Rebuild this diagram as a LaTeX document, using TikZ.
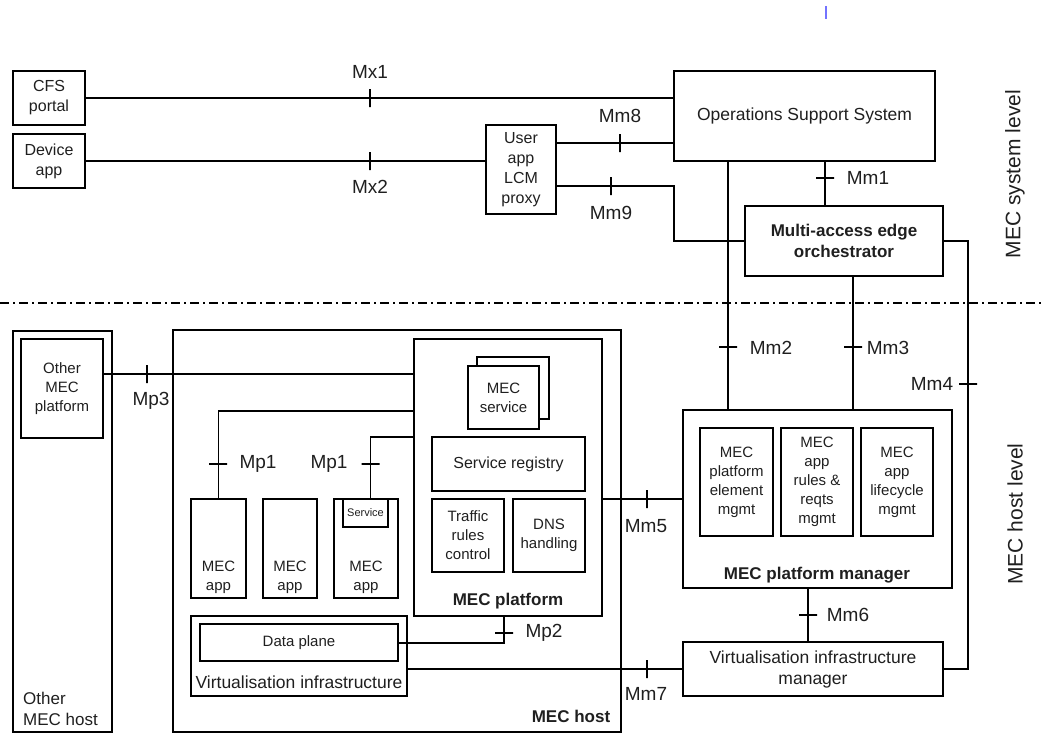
\documentclass[tikz,border=0pt]{standalone}
\usepackage{fontspec}
\setmainfont{Liberation Sans}
\usetikzlibrary{calc}
\begin{document}
\begin{tikzpicture}[x=1pt,y=-1pt,
  box/.style={draw, line width=1.8pt, inner sep=0pt, outer sep=0pt, align=center, text=black!88},
  conn/.style={line width=1.8pt},
  vt/.style={draw, line width=1.8pt, shape=rectangle, minimum width=0pt, minimum height=18pt, inner sep=0pt, outer sep=0pt},
  ht/.style={draw, line width=1.8pt, shape=rectangle, minimum width=18pt, minimum height=0pt, inner sep=0pt, outer sep=0pt},
  lbl/.style={font=\fontsize{19}{22}\selectfont, text=black!88, inner sep=0pt},
  fa/.style={font=\fontsize{16}{20}\selectfont},
  fw/.style={font=\fontsize{17.5}{21}\selectfont},
  fs/.style={font=\fontsize{15}{19}\selectfont},
  fsb/.style={font=\fontsize{11}{13}\selectfont},
  fb/.style={font=\fontsize{17}{21}\selectfont\bfseries, text=black!88, align=center},
  fl/.style={font=\fontsize{21}{24}\selectfont, text=black!88},
]
\useasboundingbox (0,0) rectangle (1044,742);
% stray mark
\coordinate (s1) at (826,6); \coordinate (s2) at (826,19);
\draw[line width=1.2pt, color=blue!55] (s1) -- (s2);

% system level
\node[box, fa, minimum width=72pt, minimum height=54pt] (cfs) at (49,98) {CFS\\portal};
\node[box, fa, minimum width=72pt, minimum height=54pt] (dev) at (49,161) {Device\\app};
\node[box, fa, minimum width=70pt, minimum height=89pt] (uapp) at (521,169.5) {User\\app\\LCM\\proxy};
\node[box, fw, minimum width=261pt, minimum height=90pt] (oss) at (804.5,116) {Operations Support System};
\node[box, fb, minimum width=198pt, minimum height=70pt] (meo) at (844,241) {Multi-access edge\\orchestrator};

% separator
\coordinate (dl) at (0,303); \coordinate (dr) at (1044,303);
\draw[line width=1.8pt, dash pattern=on 9pt off 4pt on 2pt off 4pt] (dl) -- (dr);

\node[fl, rotate=90] (syslvl) at (1015,174) {MEC system level};
\node[fl, rotate=90] (hostlvl) at (1015,514) {MEC host level};

% host level
\node[box, minimum width=99pt, minimum height=401pt] (omh) at (62.5,531.5) {};
\node[font=\fontsize{17}{21}\selectfont, text=black!88, align=left, anchor=west, inner sep=0pt] (omht) at (23,709) {Other\\MEC host};
\node[box, fs, minimum width=82pt, minimum height=99pt] (omp) at (62,388.5) {Other\\MEC\\platform};

\node[box, minimum width=448pt, minimum height=402pt] (host) at (397,531) {};
\node[fb] (hostt) at (571,716) {MEC host};
\node[box, minimum width=188pt, minimum height=277pt] (plat) at (508,477.5) {};
\node[fb] (platt) at (508,601) {MEC platform};
\node[box, minimum width=72pt, minimum height=62pt, fill=white] (svcb) at (513,388) {};
\node[box, fs, minimum width=71pt, minimum height=63pt, fill=white] (svc) at (503.5,397.5) {MEC\\service};
\node[box, fa, minimum width=153pt, minimum height=54pt] (reg) at (508.5,464) {Service registry};
\node[box, fs, minimum width=72pt, minimum height=73pt] (tr) at (468,535.5) {Traffic\\rules\\control};
\node[box, fs, minimum width=72pt, minimum height=73pt] (dns) at (549,535.5) {DNS\\handling};

\node[box, minimum width=55pt, minimum height=99pt] (app1) at (218.5,548.5) {};
\node[fs, align=center, text=black!88] (app1t) at (218.5,577) {MEC\\app};
\node[box, minimum width=54pt, minimum height=99pt] (app2) at (290,548.5) {};
\node[fs, align=center, text=black!88] (app2t) at (290,577) {MEC\\app};
\node[box, minimum width=64pt, minimum height=99pt] (app3) at (366,548.5) {};
\node[fs, align=center, text=black!88] (app3t) at (366,577) {MEC\\app};
\node[box, fsb, minimum width=45pt, minimum height=28pt] (srv) at (365.5,513) {Service};

\node[box, minimum width=216pt, minimum height=80pt] (vi) at (299,656) {};
\node[box, fs, minimum width=198pt, minimum height=37pt] (dp) at (299,642.5) {Data plane};
\node[fw, text=black!88] (vit) at (299,682) {Virtualisation infrastructure};

\node[box, minimum width=269pt, minimum height=178pt] (mpm) at (817.5,499) {};
\node[fb] (mpmt) at (817,575) {MEC platform manager};
\node[box, fs, minimum width=73pt, minimum height=108pt] (pe) at (736.5,482) {MEC\\platform\\element\\mgmt};
\node[box, fs, minimum width=72pt, minimum height=108pt] (ar) at (817,482) {MEC\\app\\rules \&\\reqts\\mgmt};
\node[box, fs, minimum width=72pt, minimum height=108pt] (lc) at (897,482) {MEC\\app\\lifecycle\\mgmt};
\node[box, fw, minimum width=260pt, minimum height=54pt] (vim) at (813,669) {Virtualisation infrastructure\\manager};

% connectors
\draw[conn] (cfs.east) -- (cfs.east -| oss.west);
\draw[conn] (dev.east) -- (dev.east -| uapp.west);
\draw[conn] ([yshift=26.5pt]uapp.east) -- ([yshift=26.5pt]uapp.east -| oss.west);
\draw[conn] ([yshift=-16.5pt]uapp.east) -| (oss.west |- meo.west) -- (meo.west);
\draw[conn] ([xshift=20.5pt]oss.south) -- ([xshift=20.5pt]oss.south |- meo.north);
\draw[conn] ([xshift=-76.5pt]oss.south) -- ([xshift=-76.5pt]oss.south |- mpm.north);
\draw[conn] ([xshift=9pt]meo.south) -- ([xshift=9pt]meo.south |- mpm.north);
\draw[conn] (meo.east) -- ++(25,0) |- (vim.east);
\draw[conn] ([yshift=14.5pt]omp.east) -- ([yshift=14.5pt]omp.east -| plat.west);
\draw[conn] ([yshift=66.5pt]plat.west) -| (app1.north);
\draw[conn] ([yshift=40.5pt]plat.west) -| ([xshift=5pt]srv.north);
\draw[conn] ([xshift=-4pt]plat.south) |- ([yshift=-0.5pt]dp.east);
\draw[conn] (mpm.west -| plat.east) -- (mpm.west);
\draw[conn] ([xshift=-9.5pt]mpm.south) -- ([xshift=-9.5pt]mpm.south |- vim.north);
\draw[conn] (vi.east |- vim.west) -- (vim.west);

% ticks
\node[vt] (tmx1) at (370,98) {};
\node[vt] (tmx2) at (370,161) {};
\node[vt] (tmm8) at (620,143) {};
\node[vt] (tmm9) at (611,186) {};
\node[ht] (tmm1) at (825,178) {};
\node[ht] (tmm2) at (728,347) {};
\node[ht] (tmm3) at (853,347) {};
\node[ht] (tmm4) at (968,384) {};
\node[vt] (tmp3) at (147,374) {};
\node[ht] (tmp1a) at (218,464) {};
\node[ht] (tmp1b) at (370.5,464) {};
\node[ht] (tmp2) at (504,633) {};
\node[vt] (tmm5) at (647,499) {};
\node[ht] (tmm6) at (808,615) {};
\node[vt] (tmm7) at (647,669) {};

% interface labels
\node[lbl] (lmx1) at (370,72) {Mx1};
\node[lbl] (lmx2) at (370,187) {Mx2};
\node[lbl] (lmm8) at (620,116) {Mm8};
\node[lbl] (lmm9) at (611,213) {Mm9};
\node[lbl] (lmm1) at (868,178) {Mm1};
\node[lbl] (lmm2) at (771,348) {Mm2};
\node[lbl] (lmm3) at (888,348) {Mm3};
\node[lbl] (lmm4) at (932,384) {Mm4};
\node[lbl] (lmp3) at (151,401) {Mp3};
\node[lbl] (lmp1a) at (258,464) {Mp1};
\node[lbl] (lmp1b) at (329,464) {Mp1};
\node[lbl] (lmp2) at (544,633) {Mp2};
\node[lbl] (lmm5) at (646,526) {Mm5};
\node[lbl] (lmm6) at (848,615) {Mm6};
\node[lbl] (lmm7) at (646,694) {Mm7};
\end{tikzpicture}
\end{document}
